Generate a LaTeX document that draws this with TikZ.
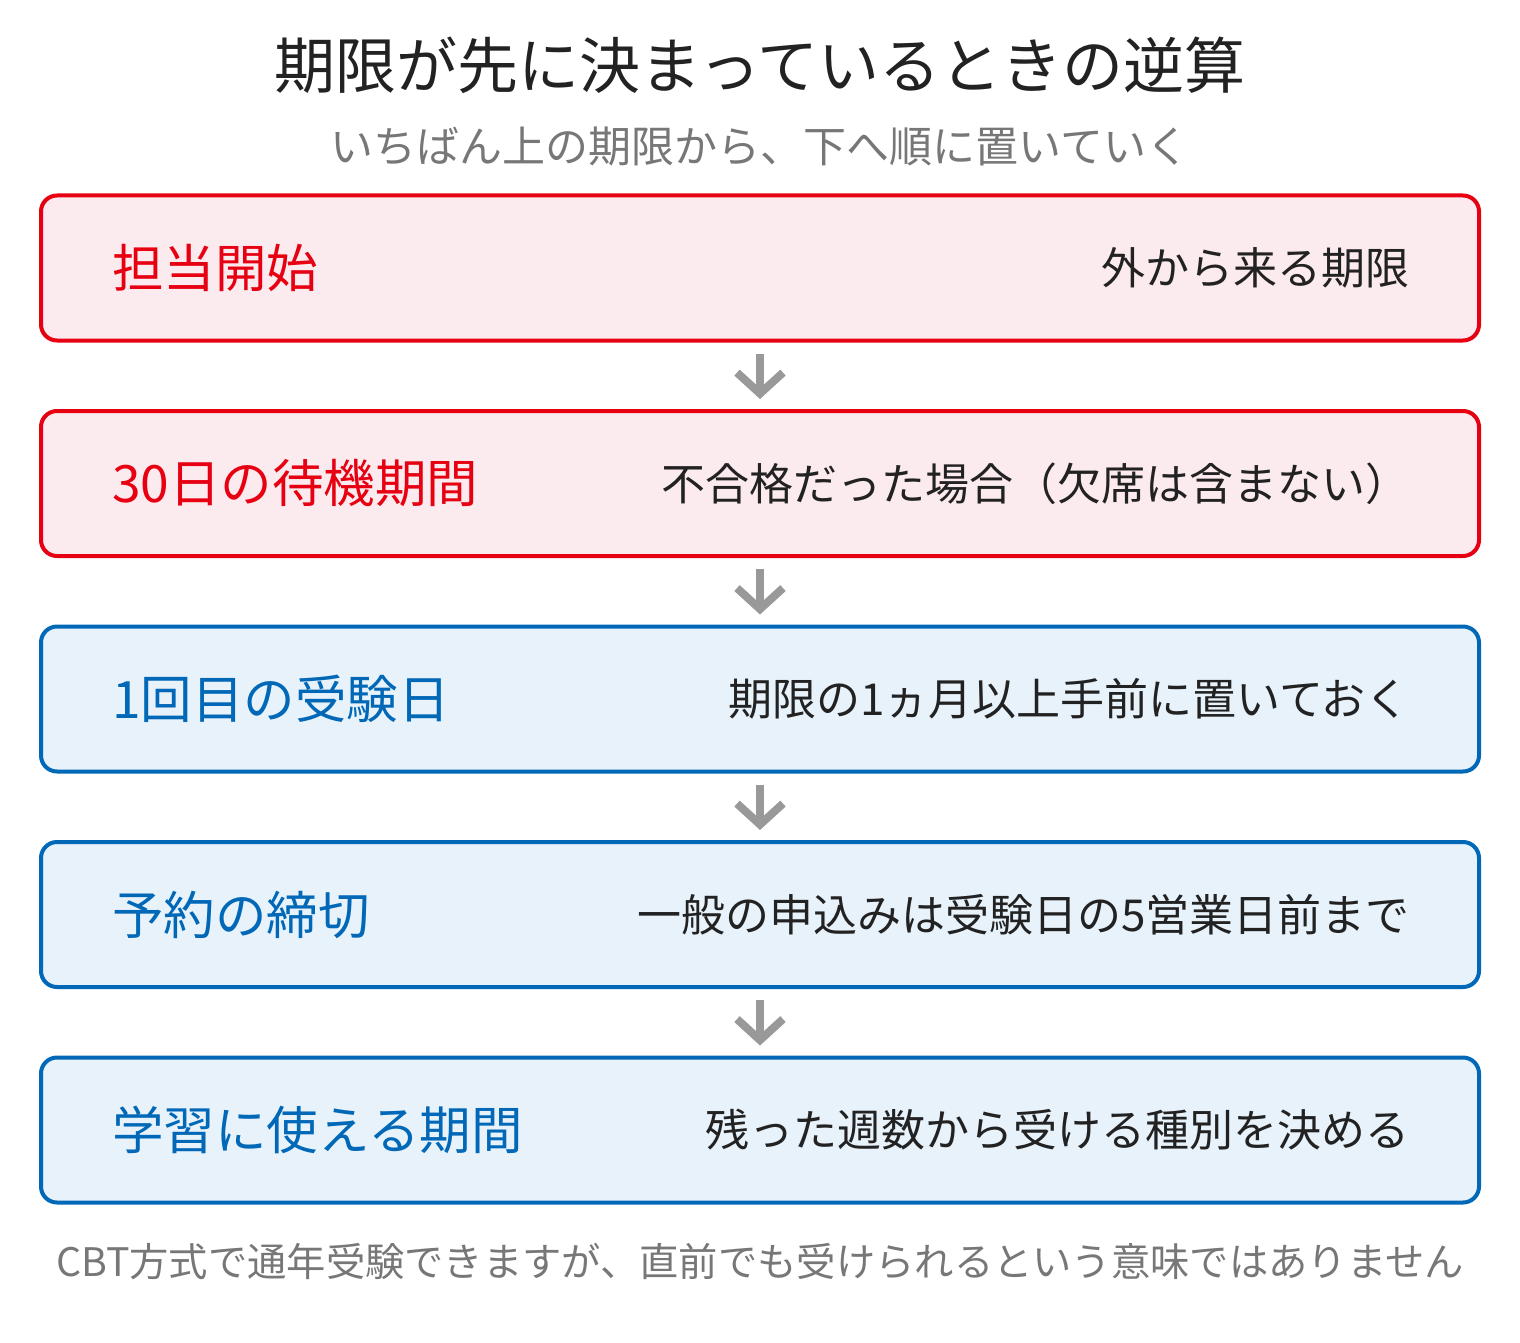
\documentclass[tikz,border=0pt]{standalone}
\usepackage{fontspec}
\setmainfont{Noto Sans CJK JP}
\usetikzlibrary{arrows.meta}
\usetikzlibrary{positioning}

\definecolor{limitred}{HTML}{E60012}
\definecolor{limitredfill}{HTML}{FCEBEE}
\definecolor{planblue}{HTML}{0068B7}
\definecolor{planbluefill}{HTML}{E8F2FB}
\definecolor{darktext}{HTML}{222222}
\definecolor{softgray}{HTML}{777777}
\definecolor{arrowgray}{HTML}{999999}

\tikzset{
    stagebox/.style={line width=4pt, rounded corners=16pt, minimum width=1438pt,
        minimum height=145pt, inner sep=0pt},
    redstage/.style={stagebox, draw=limitred, fill=limitredfill},
    bluestage/.style={stagebox, draw=planblue, fill=planbluefill},
    stagename/.style={anchor=west, inner sep=0pt, font=\fontsize{51.5pt}{60pt}\selectfont},
    stagenote/.style={anchor=east, inner sep=0pt, text=darktext, font=\fontsize{44pt}{52pt}\selectfont},
    downarrow/.style={draw=arrowgray, line width=8pt,
        -{Straight Barb[length=21pt, width=46pt]}}
}

\begin{document}
\begin{tikzpicture}[x=1pt, y=-1pt]
        \useasboundingbox (0,0) rectangle (1520,1343);

        % Heading
        \node[text=darktext, font=\fontsize{61pt}{70pt}\selectfont] (title) at (760,65)
            {期限が先に決まっているときの逆算};
        \node[text=softgray, font=\fontsize{43pt}{50pt}\selectfont] (subtitle) at (760,147)
            {いちばん上の期限から、下へ順に置いていく};

        % Stages, from the top
        \node[redstage] (start) at (760,268) {};
        \node[stagename, text=limitred] (startname) at (112,268) {担当開始};
        \node[stagenote] (startnote) at (1410,268) {外から来る期限};

        \node[redstage] (wait) at (760,483.5) {};
        \node[stagename, text=limitred] (waitname) at (112,483.5) {30日の待機期間};
        \node[stagenote] (waitnote) at (1410,483.5) {不合格だった場合（欠席は含まない）};

        \node[bluestage] (exam) at (760,699) {};
        \node[stagename, text=planblue] (examname) at (112,699) {1回目の受験日};
        \node[stagenote] (examnote) at (1410,699) {期限の1ヵ月以上手前に置いておく};

        \node[bluestage] (booking) at (760,914.5) {};
        \node[stagename, text=planblue] (bookingname) at (112,914.5) {予約の締切};
        \node[stagenote] (bookingnote) at (1410,914.5) {一般の申込みは受験日の5営業日前まで};

        \node[bluestage] (study) at (760,1130) {};
        \node[stagename, text=planblue] (studyname) at (112,1130) {学習に使える期間};
        \node[stagenote] (studynote) at (1410,1130) {残った週数から受ける種別を決める};

        % Arrows between stages
        \draw[downarrow] ([yshift=-11pt]start.south) -- ([yshift=10pt]wait.north);
        \draw[downarrow] ([yshift=-11pt]wait.south) -- ([yshift=10pt]exam.north);
        \draw[downarrow] ([yshift=-11pt]exam.south) -- ([yshift=10pt]booking.north);
        \draw[downarrow] ([yshift=-11pt]booking.south) -- ([yshift=10pt]study.north);

        % Footnote
        \node[text=softgray, font=\fontsize{39.3pt}{46pt}\selectfont] (footnote) at (760,1262)
            {CBT方式で通年受験できますが、直前でも受けられるという意味ではありません};

    \end{tikzpicture}
\end{document}
